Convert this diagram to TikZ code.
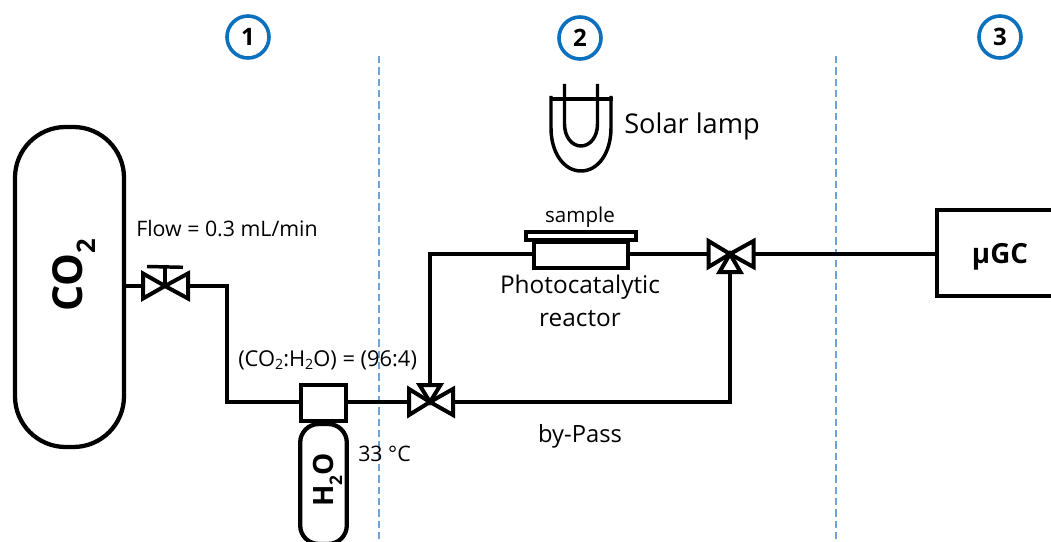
\documentclass[tikz,border=0pt]{standalone}
\usepackage{fontspec}
\setmainfont{Open Sans}
\newcommand{\fsz}[1]{\fontsize{#1}{#1}\selectfont}
\newcommand{\lo}[1]{\raisebox{-0.3ex}{\fontsize{0.65em}{0.65em}\selectfont #1}}
\newcommand{\lob}[1]{\raisebox{-0.6ex}{\fontsize{0.62em}{0.62em}\selectfont #1}}
\definecolor{numblue}{HTML}{0B70BE}
\definecolor{zoneblue}{HTML}{6FA3D6}
\tikzset{
  pipe/.style={line width=3.3pt,line join=miter,line cap=butt},
  comp/.style={draw,line width=3.2pt,fill=white,inner sep=0pt,outer sep=0pt},
  valvetri/.style={draw,line width=3pt,line join=miter,fill=white},
  zone/.style={draw=zoneblue,line width=0.85pt,dash pattern=on 5.5pt off 3pt},
  stepnum/.style={circle,draw=numblue,line width=2.7pt,minimum size=31.5pt,inner sep=0pt,font=\fsz{18}\bfseries},
  lbl/.style={inner sep=0pt,font=\fsz{16}},
  vnode/.style={inner sep=0pt,outer sep=0pt,minimum size=0pt},
  lampline/.style={line width=2.6pt},
}
\begin{document}
\begin{tikzpicture}[x=0.75pt,y=-0.75pt]
\useasboundingbox (0,0) rectangle (1051,542);
\clip (0,0) rectangle (1051,542);
% zones
\coordinate (z1a) at (379,56); \coordinate (z1b) at (379,542);
\coordinate (z2a) at (836,56); \coordinate (z2b) at (836,542);
\draw[zone] (z1a) -- (z1b);
\draw[zone] (z2a) -- (z2b);
% numbers
\node[stepnum] (n1) at (248,37) {1};
\node[stepnum] (n2) at (580,38) {2};
\node[stepnum] (n3) at (1000,37) {3};
% junction coordinates
\node[vnode] (v1) at (165,286) {};
\node[vnode] (v2) at (430,402) {};
\node[vnode] (v3) at (730,254) {};
\coordinate (c1) at (227,286);
\coordinate (c2) at (227,402);
\coordinate (c3) at (430,254);
\coordinate (c4) at (730,402);
% components
\node[comp,rotate=90,minimum width=240pt,minimum height=81.75pt,rounded corners=38pt] (co2) at (69.5,287) {};
\node[rotate=90,anchor=base,inner sep=0pt,font=\fsz{31}\bfseries] (co2label) at (82,275) {CO\lob{2}};
\node[comp,minimum width=34pt,minimum height=27pt] (sat) at (323.5,403) {};
\node[comp,rotate=90,minimum width=90pt,minimum height=35pt,rounded corners=14pt] (h2o) at (323.5,484) {};
\node[rotate=90,anchor=base,inner sep=0pt,font=\fsz{21}\bfseries] (h2olabel) at (333,480) {H\lob{2}O};
\node[comp,minimum width=70.5pt,minimum height=19pt] (reactor) at (581,255) {};
\node[comp,minimum width=83pt,minimum height=6.5pt] (lid) at (581,236) {};
\node[comp,minimum width=120pt,minimum height=64.5pt,anchor=west] (gc) at (937,253) {};
\node[anchor=base,inner sep=0pt,font=\fsz{20.8}\bfseries] (gclabel) at (1000,263) {µGC};
% pipes
\draw[pipe] (co2.south |- v1) -- (v1);
\draw[pipe] (v1) -- (c1) -- (c2) -- (sat.west |- c2);
\draw[pipe] (sat.east |- c2) -- (v2);
\draw[pipe] (v2) -- (c4) -- (v3);
\draw[pipe] (v2) -- (c3) -- (reactor.west |- c3);
\draw[pipe] (reactor.east |- c3) -- (v3);
\draw[pipe] (v3) -- (gc.west |- v3);
% valves
\draw[valvetri] (v1) -- ++(-22,-12.5) -- ++(0,25) -- cycle;
\draw[valvetri] (v1) -- ++(23,-12.5) -- ++(0,25) -- cycle;
\draw[lampline] (v1) -- ++(0,-19);
\draw[lampline] ([shift={(-18,-19.5)}]v1.center) -- ++(36,0.8);
\draw[valvetri] (v2) -- ++(-10.5,-17) -- ++(21,0) -- cycle;
\draw[valvetri] (v2) -- ++(-21,-13) -- ++(0,26) -- cycle;
\draw[valvetri] (v2) -- ++(23,-13) -- ++(0,26) -- cycle;
\draw[valvetri] (v3) -- ++(-21.5,-13) -- ++(0,26) -- cycle;
\draw[valvetri] (v3) -- ++(23.5,-13) -- ++(0,26) -- cycle;
\draw[valvetri] (v3) -- ++(-10.5,18) -- ++(21,0) -- cycle;
% lamp
\draw[line width=3.2pt] (549.5,99) -- (613,99);
\draw[lampline] (551,96) -- (551,128) .. controls (551,153) and (564,171) .. (581,171) .. controls (598,171) and (611,153) .. (611,128) -- (611,96);
\draw[lampline] (564.5,84) -- (564.5,124) .. controls (564.5,137) and (572,146) .. (581,146) .. controls (590,146) and (597.5,137) .. (597.5,124) -- (597.5,84);
% labels
\node[lbl,anchor=base west,font=\fsz{20.4}] (lamp) at (624,134) {Solar lamp};
\node[lbl,anchor=base,font=\fsz{15.4}] (sample) at (580,223) {sample};
\node[lbl,anchor=base,font=\fsz{18.3}] (rl1) at (580,293) {Photocatalytic};
\node[lbl,anchor=base,font=\fsz{18.3}] (rl2) at (580,326) {reactor};
\node[lbl,anchor=base,font=\fsz{17.8}] (bypass) at (580,442) {by-Pass};
\node[lbl,anchor=base west] (flow) at (136,236) {Flow = 0.3 mL/min};
\node[lbl,anchor=base west,font=\fsz{16.4}] (ratio) at (238,366) {(CO\lo{2}:H\lo{2}O) = (96:4)};
\node[lbl,anchor=base west] (temp) at (358,461) {33 °C};
\end{tikzpicture}
\end{document}
